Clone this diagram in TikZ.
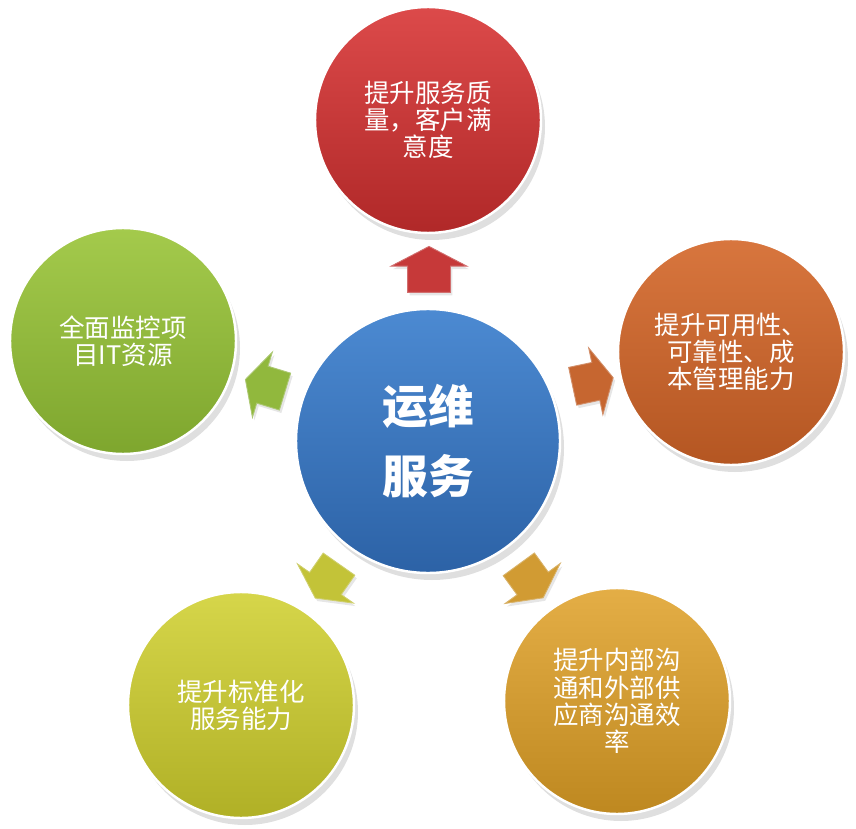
\documentclass[tikz,border=0pt]{standalone}
\usepackage{fontspec}
\newfontfamily\cjk{Noto Sans CJK SC}
\usetikzlibrary{shapes.arrows,shadows}

\definecolor{redtop}{HTML}{DC4A4A}\definecolor{redbot}{HTML}{B02828}
\definecolor{orgtop}{HTML}{D8763E}\definecolor{orgbot}{HTML}{B45622}
\definecolor{goldtop}{HTML}{E4AE46}\definecolor{goldbot}{HTML}{BE8820}
\definecolor{ylwtop}{HTML}{D6D64A}\definecolor{ylwbot}{HTML}{B0B026}
\definecolor{grntop}{HTML}{A4CA4C}\definecolor{grnbot}{HTML}{7EA62E}
\definecolor{blutop}{HTML}{4C8AD2}\definecolor{blubot}{HTML}{2C62A6}

\begin{document}
\begin{tikzpicture}[
		bubble/.style={circle, minimum size=4.52cm, inner sep=0pt, draw=white, line width=1.4pt,
			align=center, text=white, font=\cjk\fontsize{14.5}{15.5}\selectfont,
			drop shadow={opacity=0.25, shadow xshift=0.08cm, shadow yshift=-0.14cm}},
		hub/.style={bubble, minimum size=5.28cm, font=\cjk\bfseries\fontsize{26}{40}\selectfont},
		pointer/.style={single arrow, minimum height=0.92cm, inner xsep=0pt, inner ysep=0.42cm,
			single arrow head extend=0.33cm, single arrow tip angle=125, draw=white!60!#1, line width=0.5pt,
			fill=#1, drop shadow={opacity=0.2, shadow xshift=0.04cm, shadow yshift=-0.06cm}}
	]
		\useasboundingbox (0,0) rectangle (17.12,16.56);

		% the five goals round the hub
		\node[bubble, top color=redtop, bottom color=redbot] (quality) at (8.56,14.16) {提升服务质\\量，客户满\\意度};
		\node[bubble, top color=orgtop, bottom color=orgbot] (cost) at (14.62,9.52) {提升可用性、\\可靠性、成\\本管理能力};
		\node[bubble, top color=goldtop, bottom color=goldbot] (comm) at (12.34,2.54) {提升内部沟\\通和外部供\\应商沟通效\\率};
		\node[bubble, top color=ylwtop, bottom color=ylwbot] (standard) at (4.82,2.46) {提升标准化\\服务能力};
		\node[bubble, top color=grntop, bottom color=grnbot] (monitor) at (2.46,9.74) {全面监控项\\目IT资源};

		% hub
		\node[hub, top color=blutop, bottom color=blubot] (ops) at (8.56,7.74) {运维\\服务};

		% arrows pointing outward
		\node[pointer=redtop!50!redbot, rotate=90] (toquality) at (8.58,11.06) {};
		\node[pointer=orgtop!50!orgbot, rotate=12, scale=0.9] (tocost) at (11.76,8.90) {};
		\node[pointer=goldtop!50!goldbot, rotate=-54, scale=0.9] (tocomm) at (10.56,5.02) {};
		\node[pointer=ylwtop!50!ylwbot, rotate=235, scale=0.9] (tostandard) at (6.60,5.02) {};
		\node[pointer=grntop!50!grnbot, rotate=163, scale=0.9] (tomonitor) at (5.40,8.82) {};
	\end{tikzpicture}
\end{document}
